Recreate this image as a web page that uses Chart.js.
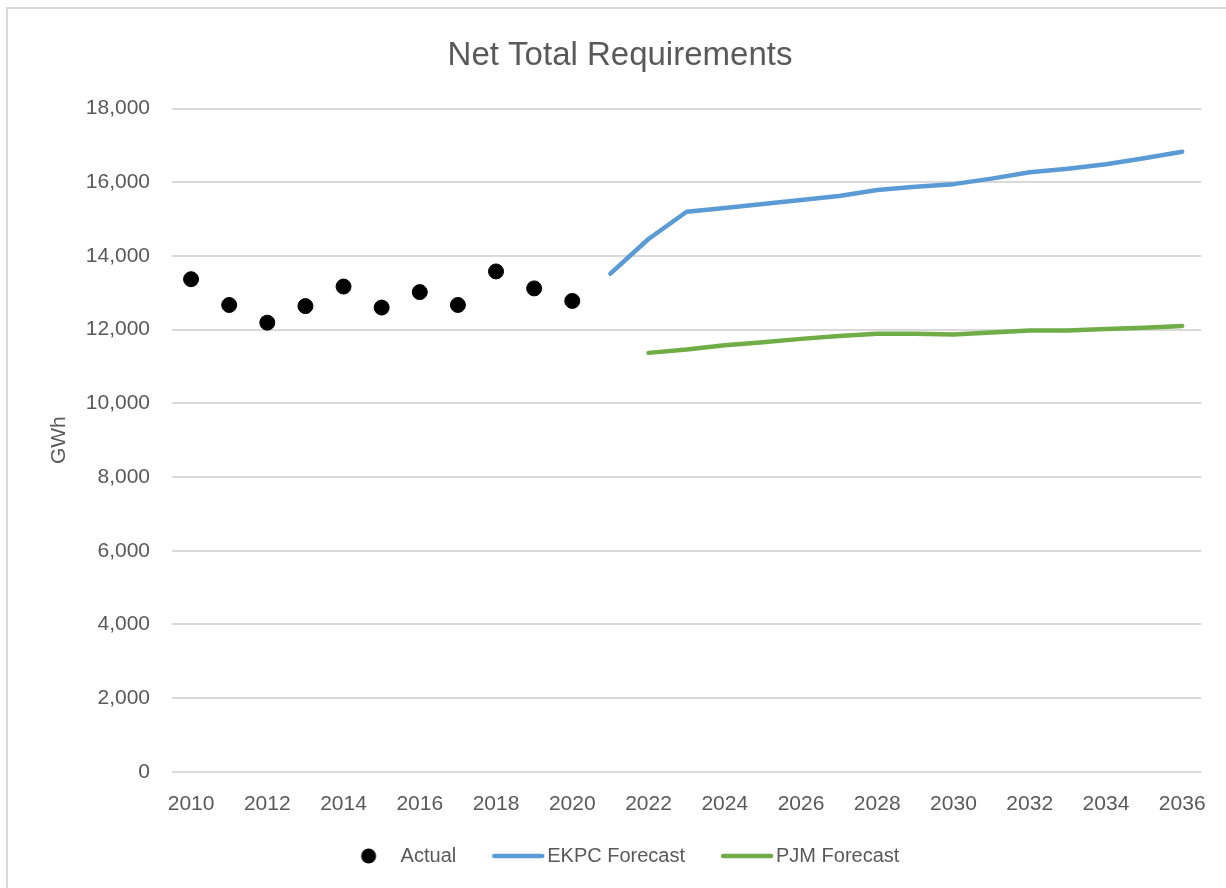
<!DOCTYPE html>
<html>
<head>
<meta charset="utf-8">
<script src="https://cdn.jsdelivr.net/npm/chart.js@4.4.0/dist/chart.umd.min.js"></script>
<style>
  html, body { margin: 0; padding: 0; background: #fff; }
  #wrap { position: relative; width: 1226px; height: 888px; overflow: hidden; }
  #frame { position: absolute; left: 6px; top: 7px; width: 1400px; height: 1000px;
           border-left: 2px solid #d9d9d9; border-top: 2px solid #d9d9d9; }
  canvas { position: absolute; left: 0; top: 0; }
</style>
</head>
<body>
<div id="wrap">
  <div id="frame"></div>
  <canvas id="reqChart" width="1226" height="888"></canvas>
</div>
<script>
const years = [2010, 2011, 2012, 2013, 2014, 2015, 2016, 2017, 2018, 2019, 2020, 2021, 2022,
               2023, 2024, 2025, 2026, 2027, 2028, 2029, 2030, 2031, 2032, 2033, 2034, 2035, 2036];

// GWh
const actual = [13370, 12670, 12190, 12640, 13170, 12600, 13020, 12670, 13580, 13120, 12780,
                null, null, null, null, null, null, null, null, null, null, null, null, null, null, null, null];
const ekpcForecast = [null, null, null, null, null, null, null, null, null, null, null,
                      13520, 14460, 15200, 15300, 15410, 15520, 15630, 15790, 15880, 15950,
                      16100, 16270, 16370, 16490, 16650, 16830];
const pjmForecast = [null, null, null, null, null, null, null, null, null, null, null, null,
                     11370, 11460, 11580, 11660, 11750, 11830, 11890, 11890, 11870,
                     11920, 11980, 11980, 12020, 12050, 12100];

const textColor = '#595959';
const gridColor = '#d9d9d9';
const fontFamily = '"Liberation Sans", Arial, sans-serif';

// legend symbols: a dot for Actual, a short thick line for the forecasts
function legendIcon(color, isDot) {
    const c = document.createElement('canvas');
    c.width = 100;
    c.height = 20;
    const g = c.getContext('2d');
    g.fillStyle = color;
    g.strokeStyle = color;
    if (isDot) {
        g.beginPath();
        g.arc(64, 10, 7.5, 0, Math.PI * 2);
        g.fill();
    } else {
        g.lineWidth = 4.5;
        g.lineCap = 'round';
        g.beginPath();
        g.moveTo(43, 10);
        g.lineTo(91, 10);
        g.stroke();
    }
    return c;
}

// the legend row sits a little left of centre in the original
const legendNudge = {
    id: 'legendNudge',
    afterLayout(chart) {
        chart.legend.left -= 11;
        chart.legend.right -= 11;
    }
};

const ctx = document.getElementById('reqChart').getContext('2d');
new Chart(ctx, {
    type: 'line',
    data: {
        labels: years,
        datasets: [
            {
                label: 'Actual',
                data: actual,
                showLine: false,
                pointStyle: 'circle',
                pointRadius: 7.5,
                pointBackgroundColor: '#000',
                pointBorderColor: '#000',
                borderColor: '#000',
                backgroundColor: '#000'
            },
            {
                label: 'EKPC Forecast',
                data: ekpcForecast,
                borderColor: '#5b9bd5',
                backgroundColor: '#5b9bd5',
                borderWidth: 4.5,
                borderCapStyle: 'round',
                borderJoinStyle: 'round',
                pointRadius: 0,
                tension: 0
            },
            {
                label: 'PJM Forecast',
                data: pjmForecast,
                borderColor: '#70ad47',
                backgroundColor: '#70ad47',
                borderWidth: 4.5,
                borderCapStyle: 'round',
                borderJoinStyle: 'round',
                pointRadius: 0,
                tension: 0
            }
        ]
    },
    options: {
        responsive: false,
        animation: false,
        layout: { padding: { left: 38, right: 24, top: 0, bottom: 12 } },
        plugins: {
            title: {
                display: true,
                text: 'Net Total Requirements',
                color: textColor,
                font: { family: fontFamily, size: 33, weight: 'normal' },
                padding: { top: 36, bottom: 33 }
            },
            legend: {
                position: 'bottom',
                labels: {
                    color: textColor,
                    font: { family: fontFamily, size: 20 },
                    usePointStyle: true,
                    pointStyleWidth: 72,
                    boxHeight: 20,
                    padding: 9,
                    generateLabels(chart) {
                        return chart.data.datasets.map((ds, i) => ({
                            text: ds.label,
                            fillStyle: ds.borderColor,
                            strokeStyle: ds.borderColor,
                            lineWidth: 0,
                            pointStyle: legendIcon(ds.borderColor, i === 0),
                            datasetIndex: i,
                            hidden: false,
                            fontColor: textColor
                        }));
                    }
                }
            },
            tooltip: { enabled: false }
        },
        scales: {
            x: {
                offset: true,
                grid: { display: false, drawTicks: false },
                border: { display: false },
                ticks: {
                    color: textColor,
                    font: { family: fontFamily, size: 21 },
                    padding: 20,
                    autoSkip: false,
                    maxRotation: 0,
                    callback(value, index) {
                        return index % 2 === 0 ? years[index] : '';
                    }
                }
            },
            y: {
                min: 0,
                max: 18000,
                afterFit(scale) { scale.width = 134; },
                grid: { color: gridColor, lineWidth: 2, drawTicks: false },
                border: { display: false },
                ticks: {
                    stepSize: 2000,
                    color: textColor,
                    font: { family: fontFamily, size: 21 },
                    padding: 22,
                    callback: v => v.toLocaleString('en-US')
                },
                title: {
                    display: true,
                    text: 'GWh',
                    color: textColor,
                    font: { family: fontFamily, size: 21 },
                    padding: { top: 9, bottom: 0 }
                }
            }
        }
    },
    plugins: [legendNudge]
});
</script>
</body>
</html>
